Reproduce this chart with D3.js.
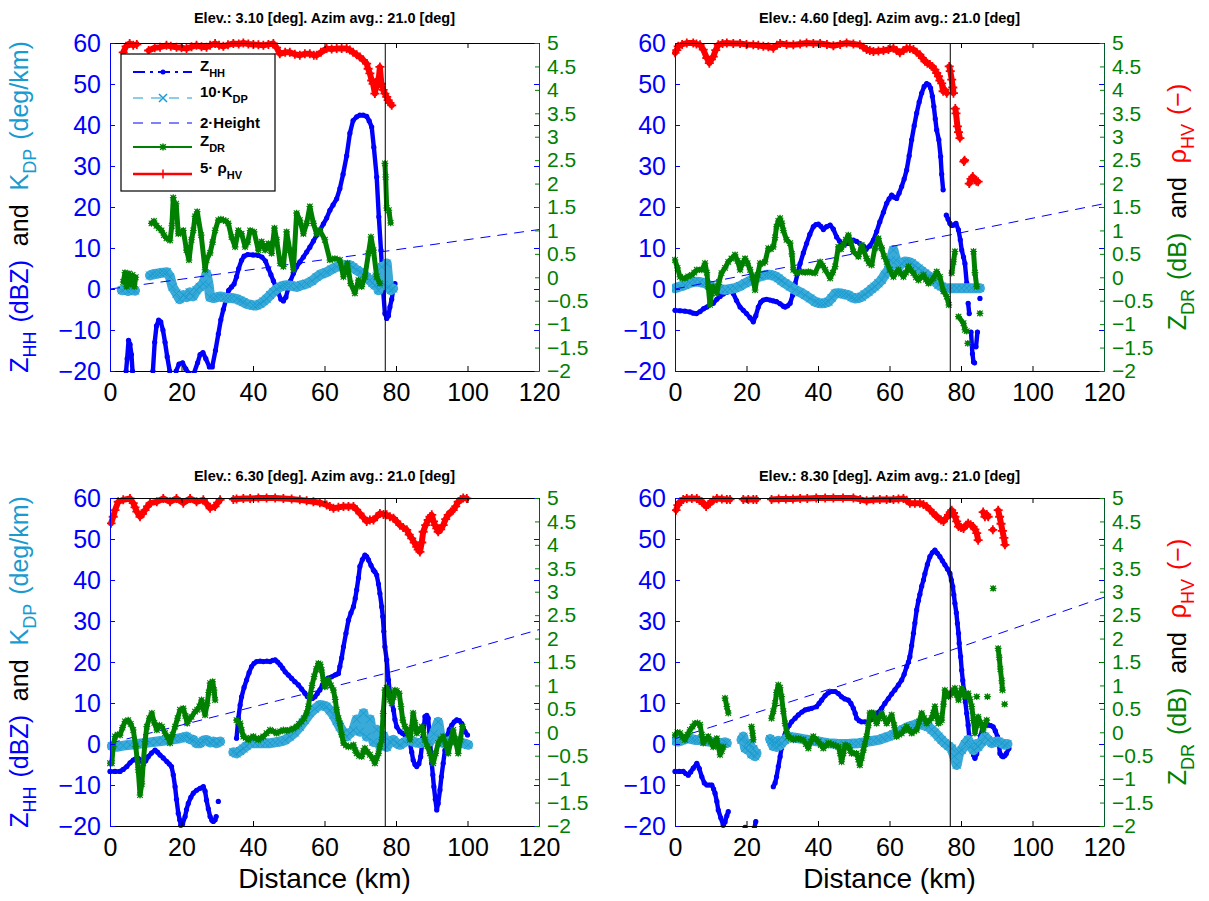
<!DOCTYPE html>
<html>
<head>
<meta charset="utf-8">
<script src="https://cdn.jsdelivr.net/npm/d3@7"></script>
<style>
  body { margin: 0; background: #fff; }
  svg { font-family: "Liberation Sans", Arial, Helvetica, sans-serif; }
</style>
</head>
<body>
<div id="chart"></div>
<script>

// ---- data: [distance km, plotted value], null = gap ----

var titles = [
  "Elev.: 3.10 [deg]. Azim avg.: 21.0 [deg]",
  "Elev.: 4.60 [deg]. Azim avg.: 21.0 [deg]",
  "Elev.: 6.30 [deg]. Azim avg.: 21.0 [deg]",
  "Elev.: 8.30 [deg]. Azim avg.: 21.0 [deg]"
];

var xTicks = [0, 20, 40, 60, 80, 100, 120];
var leftTicks = [-20, -10, 0, 10, 20, 30, 40, 50, 60];
var rightTicks = [-2, -1.5, -1, -0.5, 0, 0.5, 1, 1.5, 2, 2.5, 3, 3.5, 4, 4.5, 5];
var markerKm = 77;

// elevation 3.10
var zhh1 = [[4.5,-20],[4.8,-17],[5.2,-12.5],[5.6,-13.5],[6.0,-16],[6.3,-20],null,
  [12.0,-20],[12.5,-13],[13.0,-9],[13.6,-7.6],[14.2,-8],[14.8,-10],[15.4,-13],[16.0,-16.5],[16.7,-20],null,
  [18.5,-20],[19.3,-18.3],[20.3,-18],[21.2,-19.5],[22,-20.5],null,
  [23.5,-20.5],[24.5,-18],[25.2,-16],[26,-15.5],[26.8,-17],[27.8,-19],[28.6,-19],[29.5,-15],[30.3,-11],[31,-7.5],
  [31.7,-5],[32.5,-2.5],[33.2,-0.3],[34,0.5],[34.7,1.2],[35.4,3],[36,5],[36.8,7],[37.5,8],[38.5,8.4],[40,8.3],
  [41.5,8.2],[42.5,7.8],[43.5,6.8],[44.3,5],[45,3.5],[45.7,2],[46.4,0.5],[47.1,-1],[47.8,-2.5],[48.5,-2.9],
  [49.2,-2],[49.8,0],[50.5,2],[51.3,3.8],[52.2,5.4],[53.1,6.6],[54.1,7.8],[55,9],[55.9,10.2],[56.9,11.7],
  [57.8,13.1],[58.8,14.5],[59.7,15.9],[60.6,17.3],[61.5,19.2],[62.4,20.5],[63.4,22],[64.3,24.5],[65.2,28],
  [66.2,32.5],[67.1,38],[68,41.1],[69,42],[69.9,42.4],[70.8,42.4],[71.8,42.1],[72.5,41],[73.2,39.5],[73.8,34.6],
  [74.6,27.3],[75.2,17.6],[75.8,9.4],[76.4,-0.3],[76.9,-6],[77.4,-7.2],[77.9,-6.5],[78.3,-4.4],[78.8,-2.5],
  [79.2,-0.3],[79.7,1.3]];
var kdpx10_1 = [[3.3,-0.3],[4.2,0],[5,-0.5],[6,-0.2],[7,-0.4],null,
  [11.2,3.3],[12,3.6],[13,3.7],[14,3.9],[15,4],[15.9,4.1],[16.8,2.9],[17.5,0.5],[18.6,-1.1],[19.5,-2.5],
  [20.5,-1.5],[21.4,-2],[22.3,-0.8],[23.2,-1.8],[24.2,-0.3],[25.1,0.5],[26.1,1.3],[27,3.7],[27.6,1],[28,-2],
  [29,-2.2],[30,-2],[31,-1.8],[32,-2.1],[33,-2.2],[34,-2.2],[35.4,-2.4],[36.4,-2.8],[37.3,-3.2],[38.5,-3.7],
  [40.1,-4],[41,-4],[42,-3.6],[43,-3],[43.8,-2.4],[44.8,-1.5],[45.7,-0.7],[46.6,0],[47.6,0.5],[48.5,0.8],
  [49.4,0.9],[50.5,0.8],[52.2,0.5],[53.5,0.9],[55,1.3],[56.5,2],[57.8,2.9],[59,3.6],[60.6,4.1],[62,4.8],
  [63.4,5.4],[65.3,5.8],[67.1,5.8],[68,5.3],[69,4.6],[70,4.1],[70.9,3.7],[71.8,2.9],[72.7,2.1],[73.4,1.5],
  [74.1,0.9],[74.6,3],[75.1,-0.3],[75.5,1],[76,5.4],[76.6,1],[77.4,6.2],[78,0.5],[78.5,-0.3],[79.2,0.1]];
var heightx2_1 = [[0,0],[77,9.2],[120,14.5]];
var zdr1 = [[3.7,-0.1],[4.2,0.1],[4.7,-0.2],[5.3,0.08],[5.8,-0.15],[6.3,0.05],[6.8,-0.2],[7.2,0],null,
  [11.6,1.15],[12.3,1.2],[13,1.1],[13.7,1.05],[14.4,1.0],[15.1,0.9],[15.8,0.83],[16.8,0.79],[17.3,1.1],
  [17.7,1.7],[18.1,1.5],[18.5,1.57],[19.1,0.93],[19.8,0.95],[20.5,1.0],[21.4,0.58],[22.1,0.37],[22.8,0.8],
  [23.3,1.0],[23.8,1.3],[24.4,1.4],[25.5,0.9],[26.6,0.16],[27,0.37],[28,0.52],[28.7,0.75],[29.4,1.0],
  [30.3,1.22],[31,1.24],[31.7,1.22],[32.4,1.2],[33.1,1.15],[34,0.86],[35,0.65],[35.9,1.0],[36.8,0.93],
  [37.8,0.65],[38.5,0.75],[39.2,1.0],[40.3,0.97],[41.5,0.58],[42.4,0.76],[43.4,0.58],[44.3,0.72],[45.2,0.51],
  [46,1.05],[46.6,0.8],[47.6,0.3],[48.5,0.23],[49.4,0.97],[50.3,0.58],[51.3,0.16],[52.2,1.37],[53.1,1.22],
  [54.1,0.93],[55,1.15],[55.9,1.51],[56.9,1.15],[57.8,0.93],[58.7,1.0],[60.1,0.8],[61.5,0.37],[62.9,0.4],
  [64.3,0.37],[65.3,0.01],[66.4,0.3],[67.3,-0.13],[68.5,-0.34],[69.5,-0.06],[70.4,-0.2],[71.3,0.01],
  [72.3,0.51],[73,0.86],[73.7,0.58],[74.6,0.01],[75.5,-0.13],null,
  [76.9,2.43],[77.1,2.14],[77.4,1.48],[78,1.43],[78.5,1.16]];
var rhox5_1 = [[3.7,4.8],[4.5,4.93],[5.5,4.99],[6.5,4.95],[7.5,4.97],null,
  [10.8,4.84],[12.5,4.9],[14,4.91],[15.8,4.95],[17,4.93],[18.6,4.91],[20,4.9],[21.4,4.88],[22.8,4.92],
  [24.2,4.95],[25.6,4.92],[27,4.91],[28,4.95],[29.4,4.99],[30.5,4.95],[31.7,4.93],[33,4.96],[34.5,4.99],
  [36,4.98],[37.3,5.0],[38.7,4.98],[40.1,4.97],[41.5,4.96],[42.9,4.95],[44.3,4.97],[45.7,4.99],[46.6,4.9],
  [47.5,4.77],[49,4.8],[50.3,4.8],[51.7,4.76],[53.1,4.74],[54.5,4.77],[55.9,4.77],[57,4.74],[57.8,4.74],
  [59,4.8],[60.6,4.88],[62,4.87],[63.4,4.88],[64.8,4.88],[66.2,4.88],[67.1,4.85],[68,4.8],[69,4.75],
  [69.9,4.7],[70.8,4.64],[71.8,4.56],[72.2,4.45],[72.7,4.35],[73.2,4.2],[73.6,4.13],[74.1,3.92],[74.6,4.2],
  [75,4.1],[75.5,4.49],[75.9,4.13],[76.4,4.0],[76.9,3.92],[77.4,3.85],[77.8,3.78],[78.3,3.72],[78.8,3.67]];

// elevation 4.60
var zhh2 = [[0,-5.2],[1.4,-5.3],[2.8,-5.4],[4.2,-5.6],[5.1,-5.9],[6,-6],[7,-5.5],[8,-4.8],[8.9,-4.4],
  [9.8,-3.8],[10.7,-3.5],[11.7,-2.5],[12.6,-1.8],[13.5,-1.2],[14.5,-0.8],[15.4,-0.3],[16.3,-1.1],[17.2,-2.8],
  [18.2,-4.4],[19.1,-5.2],[20,-6],[21,-7],[21.9,-8],[22.6,-6.5],[23.3,-4.4],[24,-3.2],[24.7,-2.7],[25.6,-2.5],
  [26.6,-2.7],[27.5,-2.9],[28.4,-3.1],[29.4,-3.6],[30.3,-4.2],[30.8,-4.4],[31.5,-4.1],[32.2,-3.5],[32.9,-1.5],
  [33.6,1.3],[34.3,3.8],[35,6.2],[35.9,8.8],[36.8,11.1],[37.7,13.3],[38.7,15.2],[39.4,15.7],[40.1,15.8],
  [40.8,15.3],[41.5,14.5],[42.4,15.2],[43.4,15.6],[44.3,14.6],[45.2,12.7],[46,11.7],[46.6,11.1],[47.5,10.9],
  [48.5,11.1],[49.2,11.6],[49.9,11.9],[50.8,11.6],[51.7,11.1],[52.7,10.5],[53.6,9.9],[54.5,10.5],[55.5,11.9],
  [56.4,14],[57.3,16.4],[58.3,18.7],[59.2,20.9],[59.9,22],[60.6,22.9],[61.3,22.4],[62,22.1],[62.7,23.4],
  [63.4,25],[64.1,26.8],[64.8,29],[65.5,32.5],[66.2,36.4],[66.9,39.8],[67.6,42.9],[68.3,45.6],[69,47.8],
  [69.7,49.4],[70.4,50.1],[71,49.8],[71.5,49],[72,47],[72.4,44.5],[72.8,41.5],[73.2,38.8],[73.8,36.4],
  [74.3,32.3],[74.6,28],[75,24.2],null,
  [75.9,18],[76.4,17],[76.9,16],[77.4,15.5],[77.9,15.6],[78.6,16],[79.3,14.4],[79.8,12],[80.2,9.5],
  [80.7,7.8],[81.1,6.2],[81.6,1.5],null,[82,-3.5],[82.3,-6],null,
  [82.8,-10.5],[83.2,-15.8],[83.5,-17.8],[83.8,-18],null,[84.2,-14.1],[84.6,-10.5],null,[85.3,-2.3]];
var kdpx10_2 = [[0,0.2],[1.4,0.6],[2.8,1],[4.2,1.5],[5.6,1.8],[7,1.7],[8.4,1.4],[9.8,0.8],[11.2,0.2],
  [12.6,0],[14,-0.2],[15.4,0],[16.8,0.2],[18.2,0.7],[19.6,1.4],[21,2],[22.4,2.6],[23.8,3.1],[25.2,3.4],
  [26.1,3.5],[27,3.4],[28,3.1],[28.9,2.6],[29.8,2],[30.8,1.4],[32.2,0.6],[33.6,-0.2],[35,-0.8],[36.4,-1.5],
  [37.8,-2.3],[39.2,-3.1],[40.1,-3.4],[41,-3.5],[42,-3.4],[42.9,-3.1],[43.8,-2.2],[44.8,-1.1],[45.7,-1],
  [46.6,-1.1],[47.5,-1.3],[48.5,-1.5],[49.4,-2],[50.3,-2.3],[51.3,-2.2],[52.2,-1.9],[53.1,-1.3],[54.1,-0.7],
  [55,0],[55.9,0.6],[56.9,1.4],[57.8,2.2],[58.7,3.5],[59.7,4.6],[60.4,7],[61.1,9.5],[61.8,7],[62.5,5.4],
  [63.4,6.2],[64.3,6.7],[65.3,6.6],[66.2,6.3],[67.1,5.7],[68.1,5],[69,4.4],[69.9,3.8],[70.9,3.2],[71.8,2.6],
  [72.7,1.8],[73.7,1],[74.6,0.6],[75.5,0.2],[76.5,0.2],[77.4,0.2],[78.8,0.2],[80.2,0.2],[81.6,0.2],[83,0.2],
  [84.2,0.2],[85.3,0.2]];
var heightx2_2 = [[0,0],[77,13.2],[120,20.8]];
var zdr2 = [[0,0.37],[0.7,0.2],[1.4,0.01],[2.1,-0.02],[2.8,-0.02],[3.7,0.02],[4.7,0.05],[5.4,0.1],[6.1,0.16],
  [7.5,0.16],[8.4,0.3],[8.9,0.1],[9.3,-0.2],[9.8,-0.59],[10.2,-0.35],[10.7,-0.2],[11.7,-0.34],[12.3,-0.1],
  [13,0.09],[14,0.2],[14.9,0.33],[15.8,0.4],[16.8,0.48],[17.5,0.35],[18.2,0.16],[18.9,0.3],[19.6,0.4],
  [20.3,0.3],[21,0.16],[21.7,0],[22.4,-0.27],[23.1,0.05],[23.8,0.3],[24.5,0.3],[25.2,0.33],[26.1,0.62],
  [26.8,0.6],[27.5,0.65],[28,0.85],[28.4,1.08],[28.9,1.2],[29.4,1.26],[29.9,1.15],[30.3,1.0],[31.2,0.8],
  [32.2,0.73],[32.7,0.5],[33.1,0.16],[34,0.09],[35.4,0.12],[36.4,0.1],[37.3,0.12],[38.3,0.1],[39.2,0.09],
  [40.6,0.33],[41.3,0.25],[42,0.16],[43.4,-0.02],[44.1,0.1],[44.8,0.23],[45.7,0.65],[46.4,0.6],[47.1,0.69],
  [47.8,0.8],[48.5,0.9],[49.2,0.75],[49.9,0.55],[51.3,0.44],[52.2,0.69],[52.9,0.55],[53.6,0.4],[54.3,0.3],
  [55,0.26],[55.9,0.62],[56.9,0.83],[57.8,0.62],[58.5,0.45],[59.2,0.33],[60.1,0.16],[61.1,0.01],[61.8,0.1],
  [62.5,0.16],[63.2,0.08],[63.9,0.01],[64.6,0.1],[65.3,0.23],[66,0.15],[66.7,0.09],[67.4,0],[68.1,-0.06],
  [68.8,0],[69.5,0.05],[70.2,-0.05],[70.9,-0.13],[71.6,-0.08],[72.3,-0.02],[73.2,0.12],[74.1,0.01],
  [75.1,-0.3],[76,-0.41],[76.6,-0.59],null,[77.4,0.09],[77.9,0.33],[78.3,0.55],null,
  [79.3,-0.84],[80.7,-0.98],[81.1,-1.12],[81.6,-1.15],null,[81.9,-1.41],null,
  [83.5,0.55],[83.9,0.1],[84.4,-0.2],null,[85.3,-0.77]];
var rhox5_2 = [[0,4.79],[0.5,4.85],[0.9,4.93],[2,4.97],[3.3,5.0],[5.1,5.0],[6,4.98],[7,4.96],[7.9,4.86],
  [8.9,4.68],[9.6,4.57],[10.2,4.65],[10.7,4.71],[11.4,4.85],[12.1,4.96],[13.3,4.99],[14.5,5.0],[16.3,4.99],
  [18.2,4.99],[20,4.97],[21.9,4.96],[23.3,4.95],[24.7,4.93],[26.1,4.92],[27.5,4.89],[28.5,4.95],[29.4,4.99],
  [31.2,4.97],[33.1,4.96],[35,4.98],[36.8,5.0],[38.7,4.99],[40.6,4.99],[42.5,4.97],[44.3,4.94],[46.2,4.97],
  [48,5.0],[49.9,4.98],[51.7,4.96],[52.7,4.91],[53.6,4.86],[54.5,4.84],[55.5,4.82],[56.9,4.83],[58.3,4.84],
  [59.7,4.86],[61.1,4.89],[62,4.84],[62.9,4.79],[63.9,4.84],[64.8,4.89],[65.7,4.88],[66.7,4.86],[67.6,4.8],
  [68.5,4.75],[69.2,4.68],[69.9,4.61],[70.6,4.57],[71.3,4.54],[72,4.5],[72.7,4.43],[73.2,4.36],[73.7,4.29],
  [74.1,4.2],[74.6,4.14],[75,3.97],[75.5,4.0],[76,3.93],null,
  [76.7,4.5],[77,4.4],[77.4,4.22],[77.7,4.05],[77.9,3.93],null,
  [78.4,3.6],[78.6,3.5],[79,3.22],[79.3,3.1],[79.7,2.97],null,[80.8,2.47],[81,2.5],null,
  [82.3,2.0],[82.8,2.1],[83.3,2.15],[83.9,2.08],[84.3,2.05],[84.8,2.04]];

// elevation 6.30
var zhh3 = [[0,-6.7],[1.4,-6.7],[2.8,-6.7],[3.7,-6.2],[4.7,-5.5],[5.6,-4.6],[6.5,-3.9],[7.2,-3.6],[7.9,-3.5],
  [8.6,-4],[9.3,-4.7],[10,-4.1],[10.7,-3.1],[11.6,-2.2],[12.6,-1.5],[13.3,-2],[14,-2.7],[14.9,-3.4],[15.9,-4.3],
  [16.6,-4.9],[17.2,-5.5],[17.7,-7.5],[18.2,-10.4],[18.6,-13.5],[19.1,-16.9],[19.5,-18.5],[19.8,-19.8],
  [20.3,-19.5],[21,-17.7],[21.4,-16],[21.9,-14.5],[22.6,-13],[23.3,-12],[24.2,-11.3],[25.2,-10.8],[26.1,-10.4],
  [26.6,-11.5],[27,-13.7],[27.5,-15.8],[28,-17.7],[28.5,-18.6],[28.9,-18.9],[29.4,-18.5],[29.7,-17.7],null,
  [30.3,-14],null,
  [35.4,1.4],[35.9,6.3],[36.4,9.5],[36.8,11.5],[37.5,13.8],[38.2,15.6],[38.9,17.4],[39.6,18.9],[40.3,19.7],
  [41,20.1],[42,20.2],[42.9,20.1],[43.9,20.2],[44.8,20.1],[45.5,20.4],[46.2,20.5],[46.9,20],[47.6,19.3],
  [48.3,18.5],[49,17.6],[49.9,16.8],[50.8,16],[51.7,15.2],[52.7,14.4],[53.6,13.4],[54.5,12.4],[55.2,11.6],
  [55.9,11.1],[56.6,11.1],[57.3,11.5],[58,12.3],[58.7,13.2],[59.4,14.4],[60.1,15.6],[61,16.1],[62,16.4],
  [62.9,16.8],[63.4,17],[63.9,17.2],[64.3,18.9],[64.8,21],[65.3,23.7],[66,27],[66.7,30.2],[67.4,32],
  [68.1,33.5],[68.6,35.5],[69,37.6],[69.5,40.5],[69.9,43.3],[70.6,45],[71.3,46.1],[71.8,45.7],[72.3,44.9],
  [73,43.6],[73.7,42.4],[74.1,42],[74.6,41.2],[75.1,39],[75.5,36.7],[76,33.5],[76.3,31.1],[76.6,27.5],
  [76.9,23.7],[77.4,20.5],[77.9,15.6],[78.3,12.4],[78.8,10.2],[79.3,8.3],[79.7,6],[80.2,4.2],[81.1,3],
  [81.8,2.6],[82.5,2.2],[83.2,1.3],[83.9,0.2],[84.4,-2],[84.8,-3.9],[85.3,-5],[85.8,-5.5],[86.4,-4.8],
  [86.9,-3.1],[87.5,1.5],[88.1,6.7],[88.6,7],[89,6.3],[89.5,1],[90,-4.7],[90.3,-7.5],[90.6,-10.4],[91,-13.5],
  [91.4,-16.1],[91.8,-14.5],[92.3,-11.2],[92.7,-8],[93.2,-4.7],[93.7,-1.5],[94.2,1.8],[94.9,3.5],[95.6,4.6],
  [96.3,5.4],[97,5.9],[97.7,5.7],[98.4,5],[99.3,3],[100,2.2]];
var kdpx10_3 = [[0.5,-0.5],[1.9,-0.7],[3.7,-0.4],[5.6,-0.2],[7.5,0],[9.3,0.2],[11.2,0.4],[13.1,0.6],[14.9,0.8],
  [16.8,1],[18.2,1.2],[19.6,1.4],[20.5,1.6],[21.4,1.8],[22.4,1.2],[23.3,1],[24.2,0.2],[25.2,0.2],[26.1,0.8],
  [27,1],[28,0.4],[28.9,0.6],[29.8,0.2],[30.8,0.6],null,
  [34.5,-2.0],[35.4,-2.3],[36.4,-1.7],[37.3,-1.1],[38.2,-0.5],[39.2,0.2],[40.6,0.2],[42,0.2],[43.4,0.2],
  [44.8,0.2],[46.2,0.4],[47.6,0.6],[49,1],[50.3,1.8],[51.7,2.8],[53.1,4.2],[54.5,5.8],[55.9,7.5],[57.3,8.6],
  [58.7,9.5],[59.6,9.4],[60.6,9.1],[61.5,8.2],[62.5,7.1],[63.4,5.6],[64.3,4.2],[65.3,2.8],[66.2,1.8],
  [67.1,2.6],[68.1,3.4],[69,6],[69.9,3],[70.9,7.5],[71.8,1.8],[72.7,6],[73.7,0.5],[74.6,3.5],[75.5,-0.5],
  [76.5,2],[77.4,-0.7],[78.3,0.6],[79.3,1],[80.2,0.2],[81.1,-0.2],[82.5,0.5],[83.9,1],[85.3,0.4],[86.7,0.2],
  [88.1,0.4],[89.5,0.6],[90.6,2.5],[91.8,5.4],[92.5,1.5],[93.2,0.2],[94.6,0.6],[96,1],[97.4,0.6],[98.8,0.2],
  [100.2,-0.2]];
var heightx2_3 = [[0,0.2],[77,17.2],[120,27.9]];
var zdr3 = [[0,-0.66],[0.5,-0.66],[0.9,-0.3],[1.4,-0.09],[2.1,-0.05],[2.8,-0.06],[3.5,0.1],[4.2,0.23],
  [5.1,0.26],[5.8,0.18],[6.5,0.05],[7.2,-0.3],[7.9,-0.8],[8.4,-1.34],[8.9,-1.1],[9.3,-0.66],[9.8,-0.2],
  [10.3,0.12],[11,0.3],[11.7,0.41],[12.4,0.2],[13.1,0.05],[13.8,0.15],[14.5,0.12],[15.4,-0.02],[16.1,-0.1],
  [16.8,-0.23],[17.5,-0.05],[18.2,0.12],[18.9,0.3],[19.6,0.48],[20.5,0.51],[21.1,0.35],[21.6,0.19],
  [22.2,0.28],[22.8,0.33],[23.8,0.44],[24.4,0.48],[25,0.55],[25.6,0.69],[26.1,0.5],[26.6,0.37],[27.2,0.62],
  [27.6,0.85],[28,1.05],[28.7,1.08],[29.1,0.9],[29.4,0.69],null,
  [35.4,0.26],[35.9,0.22],[36.4,0.19],[36.8,0.05],[37.3,-0.09],[38,-0.12],[38.7,-0.16],[39.4,-0.12],
  [40.1,-0.09],[40.8,-0.13],[41.5,-0.16],[42.2,-0.12],[42.9,-0.09],[43.8,-0.02],[44.8,0.05],[45.7,0.02],
  [46.6,-0.02],[47.6,0.02],[48.5,0.05],[49.4,0.03],[50.3,0.05],[51.3,0.08],[52.2,0.12],[52.9,0.18],
  [53.6,0.23],[54.3,0.3],[55,0.41],[55.5,0.55],[55.9,0.76],[56.5,1.0],[57.1,1.19],[57.7,1.35],[58.3,1.47],
  [58.8,1.45],[59.2,1.33],[59.7,1.1],[60.1,0.97],[60.6,1.05],[61.1,1.12],[61.8,1.0],[62.5,0.9],[63,0.7],
  [63.4,0.48],[63.9,0.3],[64.3,0.19],[64.8,-0.05],[65.3,-0.23],[66,-0.28],[66.7,-0.31],[67.4,-0.3],
  [68.1,-0.27],[68.6,-0.38],[69,-0.45],[69.7,-0.5],[70.4,-0.52],[70.9,-0.4],[71.3,-0.34],[72,-0.42],
  [72.7,-0.48],[73.4,-0.55],[74.1,-0.66],[74.6,-0.55],[75.1,-0.45],[75.5,-0.3],[76,-0.16],[76.4,0.4],
  [76.9,0.9],[77.4,0.95],[77.9,0.87],[78.3,0.7],[78.8,0.62],[79.3,0.75],[79.7,0.9],[80.2,0.88],[80.9,0.83],
  [81.4,0.55],[81.9,0.26],[82.5,0.12],[83,0.05],[83.5,-0.05],[83.9,-0.16],[84.4,0.1],[84.8,0.41],[85.3,0.2],
  [85.8,-0.02],[86.5,0.05],[87.2,0.12],[87.6,0],[88.1,-0.16],[88.8,-0.3],[89.5,-0.45],[90,-0.55],[90.4,-0.66],
  [91.1,-0.45],[91.8,-0.23],[92.5,-0.15],[93.2,-0.09],[93.9,-0.25],[94.6,-0.45],[95.3,-0.2],[96,0.05],
  [96.7,-0.2],[97.4,-0.45],[98,-0.15],[98.6,0.12]];
var rhox5_3 = [[0.3,4.46],[0.9,4.6],[1.4,4.74],[2.3,4.92],[3.7,4.96],[5.6,4.99],[6.5,4.89],[7,4.8],[7.5,4.71],
  [8.4,4.6],[9.1,4.66],[9.8,4.74],[10.5,4.82],[11.2,4.89],[13.1,4.92],[14.9,4.99],[16.8,4.92],[18.6,4.99],
  [20.5,4.89],[22.4,4.99],[24.2,4.92],[26.1,4.96],[27,4.88],[28,4.78],[29.4,4.82],[30.1,4.9],[30.8,4.96],null,
  [34.5,4.97],[35.4,4.98],[37.3,4.99],[39.2,4.99],[41.5,5.0],[43.8,5.0],[46.2,5.0],[48.5,4.99],[50.8,4.98],
  [53.1,4.96],[55,4.94],[56.9,4.92],[58.7,4.9],[60.6,4.85],[61.5,4.82],[62.5,4.78],[63.9,4.8],[65.3,4.82],
  [66.7,4.82],[68.1,4.82],[69,4.75],[69.9,4.67],[70.9,4.58],[71.8,4.5],[72.7,4.53],[73.7,4.53],[74.6,4.6],
  [75.5,4.67],[76.5,4.65],[77.4,4.64],[78.3,4.6],[79.3,4.57],[80.2,4.5],[81.1,4.42],[82,4.37],[83,4.32],
  [83.7,4.22],[84.4,4.14],[85.1,4.05],[85.8,3.96],[86.2,3.9],[86.7,3.85],[87.2,4.05],[87.6,4.28],[88.3,4.42],
  [89,4.53],[89.5,4.6],[90,4.64],[90.5,4.5],[90.9,4.42],[91.4,4.35],[91.8,4.28],[92.5,4.33],[93.2,4.42],
  [93.9,4.55],[94.6,4.64],[95.3,4.7],[96,4.74],[96.7,4.82],[97.4,4.92],[98.1,4.97],[98.8,5.0],[99.8,4.99]];

// elevation 8.30
var zhh4 = [[0,-6.7],[1.2,-6.7],[2.3,-6.7],[3,-7.2],[3.7,-7.6],[4.4,-6.8],[5.1,-5.9],[6.1,-4.7],[6.8,-6],
  [7.5,-8],[8.2,-9.5],[8.9,-10],[9.6,-10],[10.3,-10],[10.8,-11],[11.2,-12],[11.7,-14],[12.1,-16.1],[12.8,-18],
  [13.5,-19.8],[14,-19],[14.5,-17.5],[14.9,-16.5],null,[19.6,-20.3],null,[22.2,-20.5],[22.6,-18.9],null,
  [27.5,-10.4],[28,-9.5],[28.4,-8],[28.9,-5.5],[29.4,-3.1],[29.8,-1],[30.3,1],[30.8,2.4],[31.2,3.4],
  [31.9,4.5],[32.6,5.4],[33.6,6.3],[34.5,7.1],[35.5,7.8],[36.4,8.3],[37.3,8.5],[38.2,8.7],[39.6,9.1],
  [40.3,9.9],[41,10.7],[42,11.8],[42.9,12.5],[43.8,12.8],[44.8,12.8],[45.7,12.3],[46.6,11.5],[47.5,11],
  [48.5,10.7],[49.2,9.9],[49.9,8.7],[50.4,7.5],[50.8,6.3],[51.5,5.7],[52.2,5.4],[53.1,5.4],[54.1,5.4],
  [55,6],[55.9,6.7],[56.9,7.7],[57.8,8.7],[58.7,9.9],[59.7,11.1],[60.6,12.2],[61.5,13.2],[62.5,14.4],
  [63.4,15.6],[64.1,17],[64.8,18.9],[65.3,20],[65.7,21.3],[66.2,24],[66.7,27],[67.1,29.5],[67.6,32.7],
  [68.1,35],[68.5,36.5],[69,38.5],[69.5,40],[69.9,41.5],[70.6,43.8],[71.3,45.7],[72,46.7],[72.7,47.3],
  [73.4,46.5],[74.1,45.7],[74.8,44.7],[75.5,43.7],[76.2,42.7],[76.9,41.6],[77.3,40],[77.7,38.4],[78,36.4],
  [78.3,34.3],[78.7,32],[79,29.4],[79.3,27],[79.5,24.6],[79.9,21.3],[80.2,18],[80.5,15.5],[80.8,13.2],
  [81.2,10.3],[81.6,7.5],[82,4.6],[82.3,1.8],[82.7,0],[83,-1.5],[83.5,-2.7],[83.9,-3.5],[84.4,-2.4],
  [84.8,-0.7],[85.5,2],[86.2,4.6],[86.9,4.8],[87.6,4.6],[88.3,4.5],[89,4.2],[89.6,3.2],[90.2,1.8],[90.6,0],
  [90.9,-2.3],[91.4,-2.9],[91.8,-3.1],[92.3,-2.8],[92.7,-2.3],[93.4,-1.1]];
var kdpx10_4 = [[0,0.8],[0.9,0.6],[1.9,0.9],[2.8,1.2],[3.7,1.4],[4.7,1.2],[5.6,1],[6.5,1],[7.5,0.9],[8.4,0.7],
  [9.3,0.6],[10.3,0.5],[11.2,0.3],[12.1,0.2],[13.1,0.2],[14,0.4],[14.5,0.2],null,
  [18.6,1.0],[19.1,1.8],[19.6,-1],[20.1,0.2],[20.5,-1.5],[21,0],[21.4,-2.5],[21.9,-1.2],[22.4,-3],[22.8,-2.2],null,
  [26.6,1.2],[27,0.6],[27.5,-0.5],[28,0.5],[28.4,-0.7],[28.9,0.8],[29.4,-0.3],[29.8,0.2],[30.8,1],[31.7,1.8],
  [33.1,1.6],[34.5,1.4],[35.9,1.2],[37.3,1],[38.7,0.8],[40.1,0.6],[41.5,0.4],[42.9,0.2],[44.3,0.1],[45.7,0],
  [47.1,0],[48.5,0],[49.9,0.1],[51.3,0.2],[52.7,0.4],[54.1,0.6],[55.5,0.8],[56.9,1],[58.3,1.4],[59.7,1.8],
  [61.1,2.4],[62.5,3],[63.9,3.6],[65.3,4.2],[66.7,4.6],[68.1,5],[69.5,4.6],[70.9,4.2],[71.8,3.5],[72.7,2.8],
  [73.7,1.8],[74.6,1],[75.5,0.2],[76.5,-0.5],[77.4,-1.1],[78.1,-3],[78.8,-5.1],[79.5,-2],[80.2,-1.5],[81.1,0],
  [82,1],[82.7,-0.5],[83.5,-1.5],[84.2,0],[84.8,-0.7],[85.8,0.5],[86.7,1.8],[87.6,1],[88.6,0.2],[89.5,0.5],
  [90.4,0.6],[91.4,0.2],[92.3,-0.2],[93,0]];
var heightx2_4 = [[0,1.3],[10,4.1],[77,22.8],[120,35.8]];
var zdr4 = [[0,-0.06],[0.7,0],[1.4,-0.02],[2.1,-0.1],[2.8,-0.16],[3.5,-0.05],[4.2,0.05],[4.9,0.12],[5.6,0.19],
  [6.3,0.2],[7,0.16],[7.5,-0.05],[7.9,-0.23],[8.6,-0.15],[9.3,-0.09],[10,-0.2],[10.7,-0.31],[11.2,-0.2],
  [11.7,-0.13],[12.1,-0.3],[12.6,-0.48],[13.1,-0.4],[13.5,-0.31],null,[14,0.73],[14.5,0.55],[14.9,0.41],null,
  [21.4,0.12],[21.7,-0.02],[21.9,-0.16],null,
  [27,0.3],[27.5,0.45],[28,0.62],[28.4,0.85],[28.9,1.01],[29.4,0.95],[29.8,0.76],[30.3,0.45],[30.8,0.19],
  [31.2,0.02],[31.7,-0.09],[32.4,-0.12],[33.1,-0.16],[33.8,-0.14],[34.5,-0.13],[35.2,-0.15],[35.9,-0.16],
  [36.6,-0.25],[37.3,-0.34],[38,-0.2],[38.7,-0.09],[39.4,-0.15],[40.1,-0.2],[40.8,-0.27],[41.5,-0.34],
  [42.2,-0.28],[42.9,-0.23],[43.6,-0.25],[44.3,-0.27],[45,-0.29],[45.7,-0.31],[46.2,-0.45],[46.6,-0.63],
  [47.1,-0.45],[47.6,-0.27],[48.1,-0.29],[48.5,-0.31],[49,-0.38],[49.4,-0.45],[50.1,-0.45],[50.8,-0.45],
  [51.3,-0.58],[51.7,-0.7],[52.2,-0.55],[52.7,-0.38],[53.1,-0.25],[53.6,-0.09],[54.1,0.15],[54.5,0.41],
  [55,0.42],[55.5,0.41],[55.9,0.3],[56.4,0.19],[57.1,0.3],[57.8,0.41],[58.5,0.3],[59.2,0.19],[59.9,0.28],
  [60.6,0.37],[61.3,0.15],[62,-0.09],[62.7,-0.05],[63.4,-0.02],[64.1,0.05],[64.8,0.12],[65.5,0.05],
  [66.2,-0.02],[66.9,0.02],[67.6,0.05],[68.3,0.23],[69,0.41],[69.7,0.3],[70.4,0.19],[71.1,0.25],[71.8,0.3],
  [72.3,0.42],[72.7,0.55],[73.2,0.35],[73.7,0.19],[74.1,0.22],[74.6,0.26],[75.1,0.6],[75.5,0.9],[76,0.83],
  [76.5,0.76],[76.9,0.8],[77.4,0.83],[77.9,0.9],[78.3,0.94],[78.8,0.8],[79.3,0.69],[79.7,0.82],[80.2,0.94],
  [80.7,0.85],[81.1,0.76],[81.6,0.8],[82,0.83],[82.5,0.7],[83,0.55],[83.5,0.25],[83.9,-0.02],[84.4,0.15],
  [84.8,0.33],[85.5,0.2],[86.2,0.05],[86.7,0.15],[87.2,0.26],null,[84.4,0.76],null,[87.4,0.76],null,
  [89,3.07],null,[90.4,1.79],[90.7,1.6],[91,1.35],[91.4,1.1],[91.6,0.9],null,[92.2,0.6]];
var rhox5_4 = [[0.3,4.74],[0.8,4.85],[1.4,4.92],[2.3,4.97],[3.3,4.99],[4.7,4.99],[6.1,4.99],[6.8,4.95],
  [7.5,4.92],[8.1,4.87],[8.7,4.82],[9.3,4.86],[9.8,4.89],[10.7,4.95],[11.7,4.99],[13.1,4.98],[14.5,4.97],
  [15.4,4.97],null,[19.1,4.97],[20.5,4.97],[21.9,4.97],[22.8,4.97],null,
  [27,4.97],[29,4.98],[31,4.98],[33,4.98],[35,4.99],[37,4.99],[39.5,5.0],[42,5.0],[44.3,5.0],[47,5.0],
  [49.9,5.0],[51.8,4.97],[53.6,4.94],[55.5,4.96],[57.3,4.97],[59.2,4.97],[61.1,4.97],[62.5,4.98],[63.9,4.99],
  [64.8,4.95],[65.7,4.89],[67.1,4.89],[68.5,4.89],[69.5,4.86],[70.4,4.82],[71.3,4.75],[72.3,4.67],[73,4.62],
  [73.7,4.57],[74.4,4.53],[75.1,4.5],[75.8,4.57],[76.5,4.64],[77,4.7],[77.4,4.74],[77.9,4.68],[78.3,4.6],
  [78.8,4.5],[79.3,4.39],[80,4.37],[80.7,4.35],[81.4,4.42],[82,4.46],[82.7,4.43],[83.4,4.39],[83.9,4.33],
  [84.4,4.25],[84.8,4.1],null,[86.2,4.7],[86.7,4.6],[87.2,4.65],[87.6,4.6],null,[88.9,4.32],null,
  [90.4,4.74],[90.8,4.6],[91.2,4.45],[91.6,4.3],[92,4.15],[92.3,4.0]];

// ---- layout & style ----

var W = 429, H = 328;
var colX = [110, 675], rowY = [43, 498];
var cZhh = "#0000ff", cKdp = "#1a9bd0", cKdpBand = "#3aaad8", cZdr = "#008000", cRho = "#ff0000";
var markX = "M-4,-4L4,4M-4,4L4,-4";
var markStar = "M-2.8,-2.8L2.8,2.8M-2.8,2.8L2.8,-2.8M-3.4,0H3.4M0,-3.4V3.4";
var markPlus = "M-4.5,0H4.5M0,-4.5V4.5";

var panels = [
  { zhh: zhh1, kdp: kdpx10_1, hgt: heightx2_1, zdr: zdr1, rho: rhox5_1 },
  { zhh: zhh2, kdp: kdpx10_2, hgt: heightx2_2, zdr: zdr2, rho: rhox5_2 },
  { zhh: zhh3, kdp: kdpx10_3, hgt: heightx2_3, zdr: zdr3, rho: rhox5_3 },
  { zhh: zhh4, kdp: kdpx10_4, hgt: heightx2_4, zdr: zdr4, rho: rhox5_4 }
];

var svg = d3.select("#chart").append("svg")
    .attr("width", 1209)
    .attr("height", 901);

var defs = svg.append("defs");

var x = d3.scaleLinear().domain([0, 120]).range([0, W]);
var yL = d3.scaleLinear().domain([-20, 60]).range([H, 0]);
var yR = d3.scaleLinear().domain([-2, 5]).range([H, 0]);

function series(g, data, y, o) {
  var line = d3.line()
      .defined(function(d) { return d !== null; })
      .x(function(d) { return x(d[0]); })
      .y(function(d) { return y(d[1]); });
  g.append("path")
      .attr("d", line(data))
      .attr("fill", "none")
      .attr("stroke", o.band || o.color)
      .attr("stroke-width", o.width)
      .attr("stroke-linecap", "round")
      .attr("stroke-linejoin", "round");
  var pts = data.filter(function(d) { return d !== null; });
  if (o.mark === "dot") {
    g.selectAll(null).data(pts).join("circle")
        .attr("cx", function(d) { return x(d[0]); })
        .attr("cy", function(d) { return y(d[1]); })
        .attr("r", 2.6)
        .attr("fill", o.color);
  } else {
    g.selectAll(null).data(pts).join("path")
        .attr("d", o.mark)
        .attr("transform", function(d) { return "translate(" + x(d[0]) + "," + y(d[1]) + ")"; })
        .attr("fill", "none")
        .attr("stroke", o.color)
        .attr("stroke-width", o.markWidth);
  }
}

// rotated axis title made of coloured pieces with subscripts
function richLabel(parent, parts, fontSize) {
  var t = parent.append("text")
      .attr("text-anchor", "middle")
      .attr("font-size", fontSize);
  parts.forEach(function(p) {
    t.append("tspan").text(p.t).attr("fill", p.c);
    if (p.sub) {
      t.append("tspan").text(p.sub).attr("fill", p.c)
          .attr("font-size", fontSize * 0.72).attr("dy", fontSize * 0.3);
      t.append("tspan").text("\u200a").attr("dy", -fontSize * 0.3);
    }
  });
  return t;
}

panels.forEach(function(p, i) {
  var col = i % 2, row = Math.floor(i / 2);
  var g = svg.append("g").attr("transform", "translate(" + colX[col] + "," + rowY[row] + ")");

  defs.append("clipPath").attr("id", "clip" + i)
    .append("rect").attr("x", -3).attr("y", -5).attr("width", W + 6).attr("height", H + 7);

  var plot = g.append("g").attr("clip-path", "url(#clip" + i + ")");

  series(plot, p.zhh, yL, { color: cZhh, width: 4.4, mark: "dot" });
  series(plot, p.kdp, yL, { color: cKdp, band: cKdpBand, width: 10, mark: markX, markWidth: 1 });

  plot.append("path")
      .attr("d", d3.line().x(function(d) { return x(d[0]); }).y(function(d) { return yL(d[1]); })(p.hgt))
      .attr("fill", "none")
      .attr("stroke", cZhh)
      .attr("stroke-width", 1)
      .attr("stroke-dasharray", "10,7");

  series(plot, p.zdr, yR, { color: cZdr, width: 5, mark: markStar, markWidth: 1.1 });
  series(plot, p.rho, yR, { color: cRho, width: 6, mark: markPlus, markWidth: 1.8 });

  // range marker line
  g.append("line")
      .attr("x1", x(markerKm)).attr("x2", x(markerKm))
      .attr("y1", 0).attr("y2", H)
      .attr("stroke", "#000").attr("stroke-width", 1);

  // axes
  var xb = g.append("g").attr("transform", "translate(0," + H + ")")
      .call(d3.axisBottom(x).tickValues(xTicks).tickSize(-5).tickSizeOuter(0).tickPadding(12))
      .attr("font-family", null).attr("font-size", null);
  xb.select(".domain").attr("stroke", "#000");
  xb.selectAll("line").attr("stroke", "#000");
  xb.selectAll("text").attr("font-size", 25).attr("fill", "#000");

  var xt = g.append("g")
      .call(d3.axisTop(x).tickValues(xTicks).tickSize(-5).tickSizeOuter(0).tickFormat(""));
  xt.select(".domain").attr("stroke", "#000");
  xt.selectAll("line").attr("stroke", "#000");

  var yl = g.append("g")
      .call(d3.axisLeft(yL).tickValues(leftTicks).tickSize(-5).tickSizeOuter(0).tickPadding(9))
      .attr("font-family", null).attr("font-size", null);
  yl.select(".domain").attr("stroke", cZhh);
  yl.selectAll("line").attr("stroke", cZhh);
  yl.selectAll("text").attr("font-size", 25).attr("fill", cZhh);

  var ylr = g.append("g").attr("transform", "translate(" + W + ",0)")
      .call(d3.axisRight(yL).tickValues(leftTicks).tickSize(-5).tickSizeOuter(0).tickFormat(""));
  ylr.select(".domain").remove();
  ylr.selectAll("line").attr("stroke", cZhh);

  var yr = g.append("g").attr("transform", "translate(" + W + ",0)")
      .call(d3.axisRight(yR).tickValues(rightTicks).tickSize(-4).tickSizeOuter(0).tickPadding(8)
        .tickFormat(d3.format("~g")))
      .attr("font-family", null).attr("font-size", null);
  yr.select(".domain").attr("stroke", "#005a2a");
  yr.selectAll("line").attr("stroke", cZdr);
  yr.selectAll("text").attr("font-size", 21).attr("fill", cZdr);

  // title
  g.append("text")
      .attr("x", W / 2).attr("y", row === 0 ? -20 : -17)
      .attr("text-anchor", "middle")
      .attr("font-size", 14.5).attr("font-weight", "bold")
      .text(titles[i]);

  if (row === 1) {
    g.append("text")
        .attr("x", W / 2).attr("y", H + 62)
        .attr("text-anchor", "middle")
        .attr("font-size", 28)
        .text("Distance (km)");
  }

  if (col === 0) {
    var ll = g.append("g").attr("transform", "translate(" + (-82) + "," + (H / 2) + ") rotate(-90)");
    richLabel(ll, [
      { t: "Z", sub: "HH", c: cZhh },
      { t: " (dBZ)", c: cZhh },
      { t: "  and  ", c: "#000" },
      { t: "K", sub: "DP", c: cKdp },
      { t: " (deg/km)", c: cKdp }
    ], 25).attr("xml:space", "preserve");
  } else {
    var rl = g.append("g").attr("transform", "translate(" + (W + 82) + "," + (H / 2) + ") rotate(-90)");
    richLabel(rl, [
      { t: "Z", sub: "DR", c: cZdr },
      { t: " (dB)", c: cZdr },
      { t: "  and  ", c: "#000" },
      { t: "\u03c1", sub: "HV", c: cRho },
      { t: " (\u2212)", c: cRho }
    ], 25).attr("xml:space", "preserve");
  }

  // legend in the first panel
  if (i === 0) {
    var lg = g.append("g").attr("transform", "translate(11,11)");
    lg.append("rect").attr("width", 154).attr("height", 137)
        .attr("fill", "#fff").attr("stroke", "#000").attr("stroke-width", 1.2);
    var entries = [
      { y: 18, c: cZhh, dash: "12,5,3,5", w: 1.8, mark: "dot", label: "Z", sub: "HH" },
      { y: 44, c: cKdp, dash: "10,8", w: 1, mark: markX, label: "10\u00b7K", sub: "DP" },
      { y: 69, c: cZhh, dash: "10,8", w: 1, mark: null, label: "2\u00b7Height", sub: null },
      { y: 93, c: cZdr, dash: null, w: 2, mark: markStar, label: "Z", sub: "DR" },
      { y: 120, c: cRho, dash: null, w: 2.5, mark: markPlus, label: "5\u00b7 \u03c1", sub: "HV" }
    ];
    entries.forEach(function(e) {
      lg.append("line").attr("x1", 12).attr("x2", 71).attr("y1", e.y).attr("y2", e.y)
          .attr("stroke", e.c).attr("stroke-width", e.w)
          .attr("stroke-dasharray", e.dash);
      if (e.mark === "dot") {
        lg.append("circle").attr("cx", 42).attr("cy", e.y).attr("r", 2.5).attr("fill", e.c);
      } else if (e.mark) {
        lg.append("path").attr("d", e.mark).attr("transform", "translate(42," + e.y + ")")
            .attr("fill", "none").attr("stroke", e.c).attr("stroke-width", 1.5);
      }
      var t = lg.append("text").attr("x", 79).attr("y", e.sub ? e.y - 1 : e.y + 5)
          .attr("font-size", 15).attr("font-weight", "bold").attr("fill", "#000");
      t.append("tspan").text(e.label);
      if (e.sub) t.append("tspan").text(e.sub).attr("font-size", 11).attr("dy", 6);
    });
  }
});
</script>
</body>
</html>
